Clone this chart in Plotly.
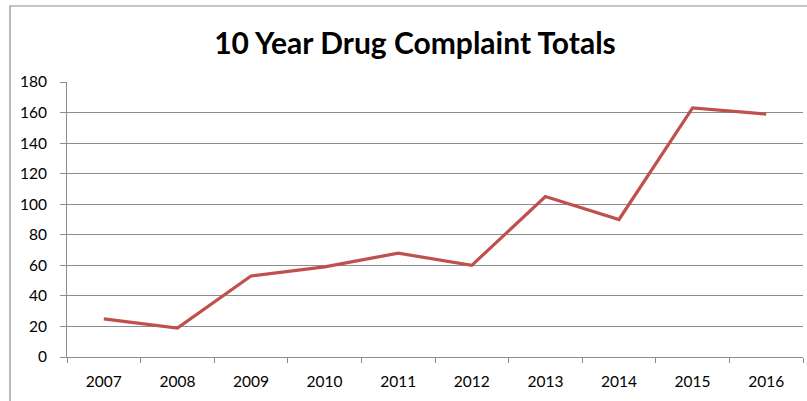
import plotly.graph_objs as go

# Data
years = ["2007", "2008", "2009", "2010", "2011", "2012", "2013", "2014", "2015", "2016"]
complaints = [25, 19, 53, 59, 68, 60, 105, 90, 163, 159]
y_ticks = [0, 20, 40, 60, 80, 100, 120, 140, 160, 180]

grid_color = "#8c8c8c"
line_color = "#c0504d"


def main():
    fig = go.Figure()
    fig.add_trace(
        go.Scatter(
            x=years,
            y=complaints,
            mode="lines",
            line=dict(color=line_color, width=3.2),
            showlegend=False,
        )
    )

    fig.update_layout(
        width=807,
        height=401,
        margin=dict(l=67, r=4, t=82, b=44),
        paper_bgcolor="white",
        plot_bgcolor="white",
        font=dict(family="Lato, Open Sans, sans-serif", size=15.5, color="#000000"),
        title=dict(
            text="<b>10 Year Drug Complaint Totals</b>",
            x=415 / 807,
            xanchor="center",
            y=1 - 43 / 401,
            yanchor="middle",
            font=dict(size=30, color="#000000"),
        ),
    )

    fig.update_xaxes(
        type="category",
        tickson="boundaries",
        ticks="outside",
        ticklen=5,
        tickcolor=grid_color,
        showline=True,
        linecolor=grid_color,
        linewidth=1,
        showgrid=False,
        range=[-0.5, 9.5],
        ticklabelstandoff=10,
        fixedrange=True,
    )
    fig.update_yaxes(
        range=[0, 180],
        tickvals=y_ticks,
        ticks="outside",
        ticklen=6,
        tickcolor=grid_color,
        showline=True,
        linecolor=grid_color,
        linewidth=1,
        showgrid=True,
        gridcolor=grid_color,
        gridwidth=1,
        zeroline=False,
        ticklabelstandoff=10,
        fixedrange=True,
    )

    # chart frame (left and top edges visible)
    fig.add_shape(
        type="rect",
        xref="paper",
        yref="paper",
        x0=(10 - 67) / 736,
        x1=1.5,
        y0=-0.5,
        y1=1 + (82 - 6) / 275,
        line=dict(color="#8c8c8c", width=1.2),
        layer="below",
    )

    # drop the default page margin so the figure sits at the window's corner
    fig.write_html(
        "out.html",
        config={"displayModeBar": False},
        post_script="document.body.style.margin = '0';",
    )


if __name__ == "__main__":
    main()
